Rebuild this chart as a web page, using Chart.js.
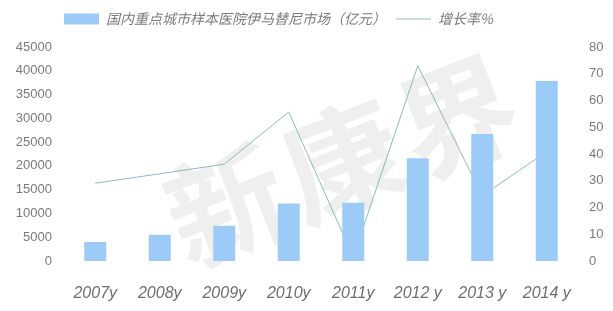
<!DOCTYPE html>
<html><head><meta charset="utf-8">
<script src="https://cdn.jsdelivr.net/npm/chart.js@4"></script>
<style>html,body{margin:0;padding:0;background:#fff}#wrap{width:613px;height:311px}</style>
</head><body><div id="wrap"><canvas id="c" width="613" height="311"></canvas></div>
<script>
const categories = ['2007y', '2008y', '2009y', '2010y', '2011y', '2012 y', '2013 y', '2014 y'];
const marketValues = [4000, 5500, 7400, 12100, 12250, 21600, 26700, 37850];
const growthRates = [29.1, 32.6, 36.2, 55.7, 1.5, 73, 24.4, 40.9];
const leftTicks = [0, 5000, 10000, 15000, 20000, 25000, 30000, 35000, 40000, 45000];
const rightTicks = [0, 10, 20, 30, 40, 50, 60, 70, 80];
const seriesNames = ['国内重点城市样本医院伊马替尼市场（亿元）', '增长率%'];
const watermarkText = '新康界';

const barColor = '#9dcbf8';
const lineColor = '#8fb8be';
const tickColor = '#7a7a7a';

const layoutPlugin = {
  id: 'layoutFix',
  beforeInit(chart) {
    if (chart.legend) {
      const fit = chart.legend.fit;
      chart.legend.fit = function () { fit.call(this); this.height = 47; };
    }
  },
  afterLayout(chart) {
    if (chart.legend) { chart.legend.left = 54; chart.legend.top = 2; }
  },
  beforeDatasetsDraw(chart) {
    const ctx = chart.ctx;
    ctx.save();
    ctx.translate(345, 160);
    ctx.rotate(-0.37);
    ctx.fillStyle = '#efefef';
    ctx.font = 'bold 118px "Noto Sans CJK SC"';
    try { ctx.letterSpacing = '6px'; } catch (e) {}
    ctx.textAlign = 'center';
    ctx.textBaseline = 'middle';
    ctx.fillText(watermarkText, 0, 0);
    ctx.restore();
  }
};

new Chart(document.getElementById('c'), {
  data: {
    labels: categories,
    datasets: [
      { type: 'bar', label: seriesNames[0], data: marketValues, backgroundColor: barColor,
        borderWidth: 0, yAxisID: 'y', order: 1, barPercentage: 0.341, categoryPercentage: 1 },
      { type: 'line', label: seriesNames[1], data: growthRates, borderColor: lineColor,
        backgroundColor: lineColor, borderWidth: 1, pointRadius: 0, tension: 0, yAxisID: 'y1', order: 2 }
    ]
  },
  options: {
    responsive: false,
    animation: false,
    devicePixelRatio: 1,
    layout: { padding: 0 },
    plugins: {
      tooltip: { enabled: false },
      legend: {
        position: 'top',
        align: 'start',
        labels: {
          usePointStyle: true,
          pointStyleWidth: 35,
          boxHeight: 11,
          padding: 10,
          color: tickColor,
          font: { family: '"Noto Sans CJK SC", "Liberation Sans", sans-serif', size: 14, style: 'italic' },
          generateLabels(chart) {
            return chart.data.datasets.map((ds, i) => ({
              text: ds.label,
              datasetIndex: i,
              fillStyle: ds.type === 'bar' ? ds.backgroundColor : 'rgba(0,0,0,0)',
              strokeStyle: ds.borderColor || ds.backgroundColor,
              lineWidth: ds.type === 'bar' ? 0 : 1,
              pointStyle: ds.type === 'bar' ? 'rect' : 'line',
              fontColor: tickColor,
              hidden: false
            }));
          }
        }
      }
    },
    scales: {
      x: {
        grid: { display: false, drawTicks: false },
        border: { display: false },
        ticks: { color: '#6e6e6e', padding: 23, maxRotation: 0,
          font: { family: '"Liberation Sans", Arial, sans-serif', size: 16, style: 'italic' } },
        afterFit(s) { s.height = 50; }
      },
      y: {
        position: 'left', min: 0, max: 45000,
        grid: { display: false, drawTicks: false },
        border: { display: false },
        ticks: { color: tickColor, padding: 11, callback: v => String(v),
          font: { family: '"Liberation Sans", Arial, sans-serif', size: 13 } },
        afterBuildTicks(s) { s.ticks = leftTicks.map(v => ({ value: v })); },
        afterFit(s) { s.width = 63; }
      },
      y1: {
        position: 'right', min: 0, max: 80,
        grid: { display: false, drawTicks: false },
        border: { display: false },
        ticks: { color: tickColor, padding: 10, callback: v => String(v),
          font: { family: '"Liberation Sans", Arial, sans-serif', size: 13 } },
        afterBuildTicks(s) { s.ticks = rightTicks.map(v => ({ value: v })); },
        afterFit(s) { s.width = 34; }
      }
    }
  },
  plugins: [layoutPlugin]
});
</script>
</body></html>
